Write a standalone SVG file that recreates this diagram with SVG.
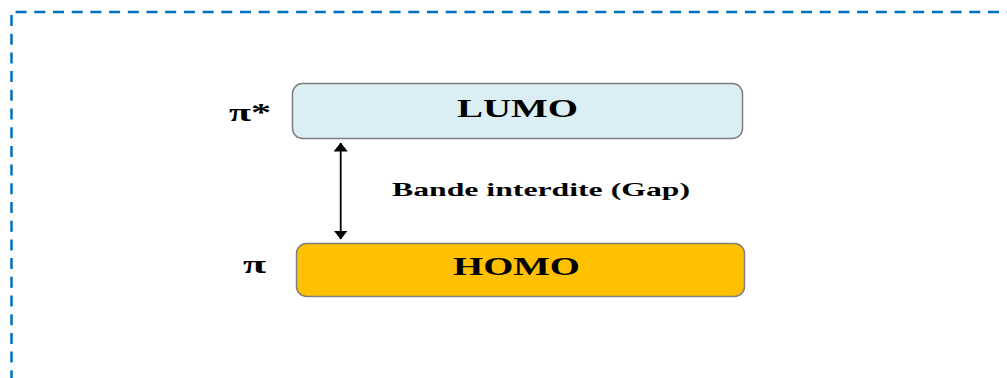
<svg xmlns="http://www.w3.org/2000/svg" width="1007" height="378" viewBox="0 0 1007 378">
  <style>
    .frame { fill: none; stroke: #0070C0; stroke-width: 2.5; stroke-dasharray: 11 7.7; }
    .level { stroke: #7F7F7F; stroke-width: 1.5; }
    .lumo { fill: #DAEEF3; }
    .homo { fill: #FFC000; }
    .lbl { font-family: "Liberation Serif", "Times New Roman", serif; font-weight: bold; fill: #000; }
    .conn { stroke: #000; stroke-width: 1.8; fill: none; }
  </style>
  <defs>
    <marker id="head" viewBox="0 0 9 14" refX="8.5" refY="7" markerWidth="9" markerHeight="14" markerUnits="userSpaceOnUse" orient="auto-start-reverse">
      <path d="M0,0 L9,7 L0,14 Z" fill="#000"/>
    </marker>
  </defs>

  <!-- dashed frame (runs off the right and bottom edges) -->
  <g id="frame">
    <line class="frame" x1="15.6" y1="12" x2="1010" y2="12"/>
    <line class="frame" x1="11.5" y1="15" x2="11.5" y2="380"/>
  </g>

  <g id="lumo">
    <rect class="level lumo" x="292.5" y="83.5" width="450" height="55" rx="10" ry="10"/>
    <text class="lbl" x="457" y="117" font-size="26" textLength="121" lengthAdjust="spacingAndGlyphs">LUMO</text>
  </g>

  <g id="pi-star">
    <text class="lbl" x="229" y="121" font-size="26" textLength="42" lengthAdjust="spacingAndGlyphs">π*</text>
  </g>

  <g id="homo">
    <rect class="level homo" x="296.5" y="243.5" width="448" height="53" rx="10" ry="10"/>
    <text class="lbl" x="453" y="275" font-size="26" textLength="127" lengthAdjust="spacingAndGlyphs">HOMO</text>
  </g>

  <g id="pi">
    <text class="lbl" x="243" y="273" font-size="26" textLength="23" lengthAdjust="spacingAndGlyphs">π</text>
  </g>

  <g id="gap-label">
    <text class="lbl" x="392" y="196" font-size="19" textLength="298" lengthAdjust="spacingAndGlyphs">Bande interdite (Gap)</text>
  </g>

  <g id="connectors">
    <line class="conn" x1="340.7" y1="143" x2="340.7" y2="239" marker-start="url(#head)" marker-end="url(#head)"/>
  </g>
</svg>
